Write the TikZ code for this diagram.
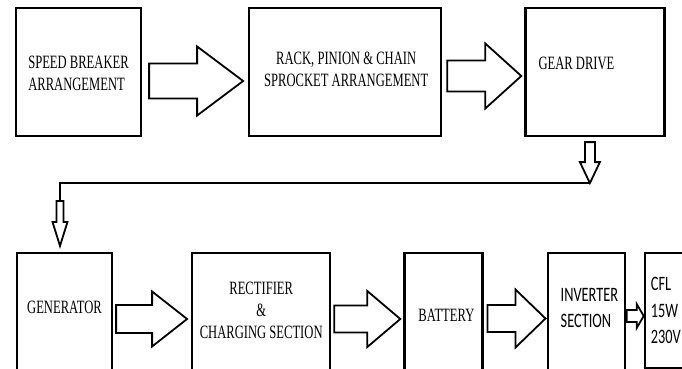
\documentclass[tikz,border=0pt]{standalone}
\usepackage{fontspec}
\newfontfamily\blockserif[FakeStretch=0.67]{Liberation Serif}
\newfontfamily\blocksans[FakeStretch=0.7]{Carlito}
\usetikzlibrary{positioning, calc}
\tikzset{
  box/.style={rectangle, draw, line width=2.2pt, fill=white, inner sep=0pt},
  txt/.style={font=\blockserif\fontsize{18.8}{22}\selectfont, align=center, inner sep=0pt},
  stxt/.style={font=\blocksans\fontsize{20.5}{26.5}\selectfont, align=left, inner sep=0pt},
  hollow/.style={draw, line width=1.8pt, fill=white, line join=miter},
  link/.style={draw, line width=2.2pt},
}
% hollow block arrow: [rotation]{tail}{length}{body half}{head half}{head length}
\newcommand{\hollowarrow}[6][0]{%
  \draw[hollow, shift={(#2)}, rotate=#1]
    (0,#4) -- (#3-#6,#4) -- (#3-#6,#5) -- (#3,0) -- (#3-#6,-#5) -- (#3-#6,-#4) -- (0,-#4) -- cycle;}

\begin{document}
\begin{tikzpicture}[x=1pt, y=-1pt]
  \useasboundingbox (0,0) rectangle (682,369);
  \clip (0,0) rectangle (682,369);
  % top row
  \node[box, minimum width=125pt, minimum height=128pt] (sb) at (78.5,72) {};
  \node[box, minimum width=192pt, minimum height=128pt, right=106pt of sb] (rpc) {};
  \node[box, minimum width=139pt, minimum height=128pt, right=82pt of rpc] (gear) {};
  \node[txt, align=left] (sb-t) at ([yshift=-1pt]sb.center) {SPEED BREAKER\\ARRANGEMENT};
  \node[txt] (rpc-t) at ([xshift=1pt,yshift=3pt]rpc.center) {RACK, PINION \& CHAIN\\SPROCKET ARRANGEMENT};
  \node[txt, anchor=west] (gear-t) at ([xshift=14pt,yshift=9pt]gear.west) {GEAR DRIVE};
  % bottom row
  \node[box, minimum width=95pt, minimum height=128pt] (gen) at (64.5,317) {};
  \node[box, minimum width=138pt, minimum height=128pt, right=78pt of gen] (rect) {};
  \node[box, minimum width=78pt, minimum height=128pt, right=72pt of rect] (bat) {};
  \node[box, minimum width=77pt, minimum height=128pt, right=63pt of bat] (inv) {};
  \node[box, minimum width=70pt, minimum height=115pt, right=18pt of inv.north east, anchor=north west] (cfl) {};
  \node[txt] (gen-t) at ([yshift=10pt]gen.center) {GENERATOR};
  \node[txt] (rect-t) at ([yshift=7pt]rect.center) {RECTIFIER\\\&\\CHARGING SECTION};
  \node[txt] (bat-t) at ([xshift=3pt,yshift=2pt]bat.center) {BATTERY};
  \node[stxt, anchor=west] (inv-t) at ([xshift=14pt,yshift=9pt]inv.west) {INVERTER\\SECTION};
  \node[stxt, anchor=west] (cfl-t) at ([xshift=7pt]cfl.west) {CFL\\15W\\230V};
  % block arrows
  \coordinate (a1) at ([xshift=7pt,yshift=-9pt]sb.east);
  \coordinate (a2) at ([xshift=5pt,yshift=-4pt]rpc.east);
  \coordinate (a3) at ([xshift=3pt,yshift=-2pt]gen.east);
  \coordinate (a4) at ([xshift=3pt,yshift=-2pt]rect.east);
  \coordinate (a5) at ([xshift=4pt,yshift=-1.5pt]bat.east);
  \coordinate (a6) at ([xshift=1pt,yshift=1pt]inv.east);
  \hollowarrow{a1}{94}{17.5}{34.5}{46}
  \hollowarrow{a2}{74}{15.5}{32.5}{36}
  \hollowarrow{a3}{71}{14}{27.5}{35}
  \hollowarrow{a4}{66}{13.5}{28}{33}
  \hollowarrow{a5}{58}{13.5}{29}{30}
  \hollowarrow{a6}{17}{6}{12}{7}
  % gear drive down to generator
  \coordinate (d1) at ([xshift=-5pt,yshift=-5pt]gear.south);
  \coordinate (d1tip) at ([yshift=-41pt]d1);
  \coordinate (d2) at ([xshift=-4.5pt,yshift=51pt]gen.north);
  \draw[link] (d1tip) -| (d2);
  \hollowarrow[-90]{d1}{41}{5}{10}{21}
  \hollowarrow[-90]{d2}{45}{3.5}{7.5}{24}
\end{tikzpicture}
\end{document}
